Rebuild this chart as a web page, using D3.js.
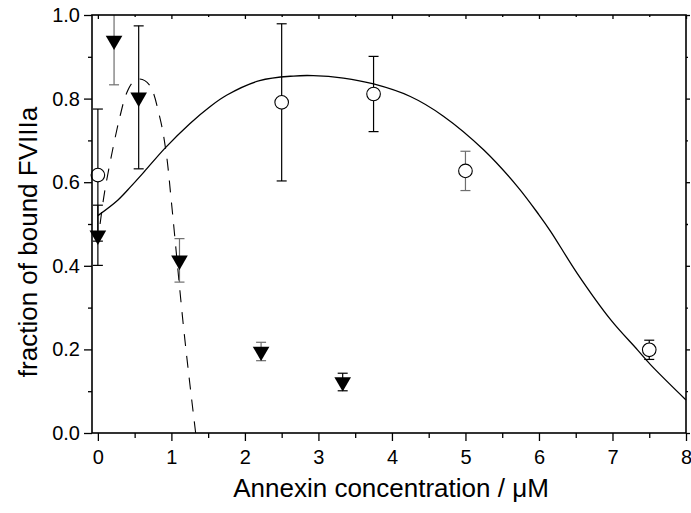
<!DOCTYPE html>
<meta charset="utf-8">
<script src="https://d3js.org/d3.v7.min.js"></script>
<style>
  body { margin: 0; background: #fff; }
  text { font-family: "Liberation Sans", Arial, sans-serif; fill: #000; }
</style>
<svg id="chart" width="691" height="513"></svg>
<script>

// Open circles: x, y, error
var circleX   = [0, 2.5, 3.75, 5, 7.5];
var circleY   = [0.617, 0.791, 0.811, 0.627, 0.199];
var circleErr = [0.158, 0.188, 0.090, 0.047, 0.023];

// Filled down triangles: x, y, error
var triX   = [0, 0.22, 0.555, 1.11, 2.22, 3.33];
var triY   = [0.473, 0.939, 0.803, 0.413, 0.195, 0.122];
var triErr = [0.072, 0.106, 0.171, 0.052, 0.022, 0.021];

// Solid fit curve
var solidX = [0, 0.27, 0.45, 0.63, 0.91, 1.25, 1.52, 1.75, 2.2, 2.66, 2.93, 3.34, 3.75, 4.25, 4.7, 5.25, 5.71, 6.0, 6.16, 6.52, 6.98, 7.34, 7.52, 8.0];
var solidY = [0.52, 0.557, 0.59, 0.625, 0.681, 0.74, 0.78, 0.808, 0.843, 0.854, 0.855, 0.849, 0.835, 0.805, 0.758, 0.677, 0.589, 0.522, 0.482, 0.382, 0.27, 0.199, 0.163, 0.079];

// Dashed fit curve
var dashX = [0.03, 0.09, 0.2, 0.3, 0.39, 0.48, 0.57, 0.7, 0.84, 0.93, 1.0, 1.16, 1.25, 1.33];
var dashY = [0.50, 0.575, 0.677, 0.757, 0.813, 0.84, 0.847, 0.833, 0.757, 0.669, 0.553, 0.262, 0.119, 0.0];

var xTicks = [0, 1, 2, 3, 4, 5, 6, 7, 8];
var xMinor = [0.5, 1.5, 2.5, 3.5, 4.5, 5.5, 6.5, 7.5];
var yTicks = [0, 0.2, 0.4, 0.6, 0.8, 1.0];
var yMinor = [0.1, 0.3, 0.5, 0.7, 0.9];

// error bars drawn in grey in the original
var greyCircle = [3];
var greyTri = [1, 3, 4];

var svg = d3.select("#chart");
var pLeft = 92, pRight = 686, pTop = 15, pBottom = 433;

var x = d3.scaleLinear().domain([-0.08, 8]).range([pLeft, pRight]);
var y = d3.scaleLinear().domain([0, 1]).range([pBottom, pTop]);

svg.append("clipPath").attr("id", "plot")
  .append("rect").attr("x", pLeft).attr("y", pTop)
  .attr("width", pRight - pLeft).attr("height", pBottom - pTop);

// Curves
var line = d3.line().curve(d3.curveCatmullRom.alpha(0.5));

svg.append("path")
  .attr("d", line(solidX.map(function(d, i){ return [x(d), y(solidY[i])] })))
  .attr("fill", "none").attr("stroke", "#000").attr("stroke-width", 1.3);

svg.append("path")
  .attr("d", line(dashX.map(function(d, i){ return [x(d), y(dashY[i])] })))
  .attr("fill", "none").attr("stroke", "#000").attr("stroke-width", 1.1)
  .attr("stroke-dasharray", "12,10");

// Error bars
function errorBars(xs, ys, es, greys) {
  var g = svg.append("g").attr("clip-path", "url(#plot)");
  xs.forEach(function(d, i){
    var c = greys.indexOf(i) >= 0 ? "#6e6e6e" : "#000";
    var cx = x(d), y1 = y(ys[i] + es[i]), y0 = y(ys[i] - es[i]);
    g.append("line").attr("x1", cx).attr("x2", cx).attr("y1", y1).attr("y2", y0)
      .attr("stroke", c).attr("stroke-width", 1.2);
    [y1, y0].forEach(function(yy){
      g.append("line").attr("x1", cx - 5).attr("x2", cx + 5).attr("y1", yy).attr("y2", yy)
        .attr("stroke", c).attr("stroke-width", 1.2);
    });
  });
}
errorBars(triX, triY, triErr, greyTri);
errorBars(circleX, circleY, circleErr, greyCircle);

// Markers
svg.append("g").selectAll("path").data(triX).enter().append("path")
  .attr("d", d3.symbol(d3.symbolTriangle, 120))
  .attr("transform", function(d, i){ return "translate(" + x(d) + "," + y(triY[i]) + ") rotate(180)" })
  .attr("fill", "#000");

svg.append("g").selectAll("circle").data(circleX).enter().append("circle")
  .attr("cx", function(d){ return x(d) })
  .attr("cy", function(d, i){ return y(circleY[i]) })
  .attr("r", 6.8)
  .attr("fill", "#fff").attr("stroke", "#000").attr("stroke-width", 1.1);

// Axes
function ax(gen, tr, vals, size, fmt) {
  var g = svg.append("g").attr("transform", tr)
    .call(gen.tickValues(vals).tickSize(size).tickFormat(fmt));
  g.select(".domain").remove();
  g.selectAll("line").attr("stroke", "#000").attr("stroke-width", 1.3);
  return g;
}
var bx = ax(d3.axisBottom(x), "translate(0," + pBottom + ")", xTicks, 8, d3.format("d"));
bx.selectAll("text").attr("font-size", 20).attr("dy", "1.0em");
ax(d3.axisBottom(x), "translate(0," + pBottom + ")", xMinor, 5, "");
ax(d3.axisTop(x), "translate(0," + pTop + ")", xTicks, -4, "");
ax(d3.axisTop(x), "translate(0," + pTop + ")", xMinor, -2, "");

var ly = ax(d3.axisLeft(y), "translate(" + pLeft + ",0)", yTicks, 8, d3.format(".1f"));
ly.selectAll("text").attr("font-size", 20).attr("x", -12);
ax(d3.axisLeft(y), "translate(" + pLeft + ",0)", yMinor, 4, "");
ax(d3.axisRight(y), "translate(" + pRight + ",0)", yTicks, 4, "");
ax(d3.axisRight(y), "translate(" + pRight + ",0)", yMinor, 2, "");

// Frame
svg.append("rect").attr("x", pLeft).attr("y", pTop)
  .attr("width", pRight - pLeft).attr("height", pBottom - pTop)
  .attr("fill", "none").attr("stroke", "#000").attr("stroke-width", 1.6);

// Axis titles
svg.append("text").attr("x", 391).attr("y", 497)
  .attr("text-anchor", "middle").attr("font-size", 26)
  .text("Annexin concentration / μM");

svg.append("text").attr("transform", "translate(37,242) rotate(-90)")
  .attr("text-anchor", "middle").attr("font-size", 26)
  .text("fraction of bound FVIIIa");

</script>
